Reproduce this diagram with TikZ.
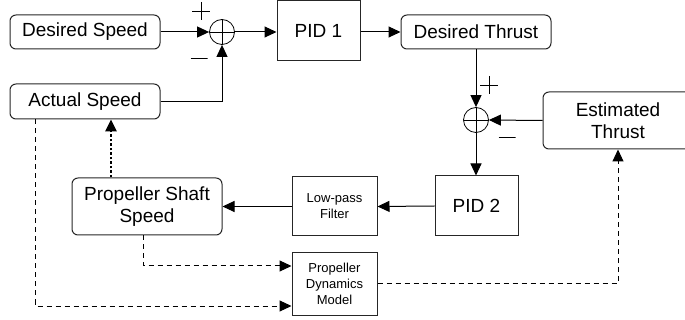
\documentclass[tikz,border=0pt]{standalone}
\usepackage{fontspec}
\setmainfont{Liberation Sans}
\usetikzlibrary{arrows.meta}
\begin{document}
\begin{tikzpicture}[x=1pt,y=-1pt,
  big/.style={font=\fontsize{19}{22}\selectfont},
  small/.style={font=\fontsize{13}{16}\selectfont},
  blk/.style={draw=black!85, line width=1pt, rounded corners=6pt, align=center, inner sep=0pt, big},
  sq/.style={draw=black!85, line width=1pt, align=center, inner sep=0pt},
  sumc/.style={draw, circle, minimum size=25pt, inner sep=0pt, line width=0.8pt,
    path picture={\draw[line width=0.8pt] (path picture bounding box.north)--(path picture bounding box.south)
      (path picture bounding box.west)--(path picture bounding box.east);}},
  arr/.style={line width=1pt, -{Triangle[length=12pt,width=11pt]}},
  dsh/.style={arr, dash pattern=on 5pt off 4pt},
  dotarr/.style={line width=2.5pt, dash pattern=on 2.5pt off 2pt, -{Triangle[length=12pt,width=11pt]}},
  plussign/.style={minimum size=18pt, inner sep=0pt,
    path picture={\draw[line width=0.9pt] (path picture bounding box.north)--(path picture bounding box.south)
      (path picture bounding box.west)--(path picture bounding box.east);}},
  minussign/.style={minimum width=17pt, minimum height=2pt, inner sep=0pt,
    path picture={\draw[line width=0.9pt] (path picture bounding box.west)--(path picture bounding box.east);}}]
\useasboundingbox (0,0) rectangle (685,320);
\clip (0,0) rectangle (685,320);

\node[blk, minimum width=150pt, minimum height=34pt] (ds) at (85,32) {Desired Speed};
\node[blk, minimum width=150pt, minimum height=35pt] (as) at (85,101.5) {Actual Speed};
\node[sumc] (s1) at (222,32) {};
\node[sq, big, minimum width=83pt, minimum height=60pt] (p1) at (318.5,31) {PID 1};
\node[blk, minimum width=150pt, minimum height=34pt] (dt) at (476,32) {Desired Thrust};
\node[sumc] (s2) at (476,120) {};
\node[blk, minimum width=150pt, minimum height=57pt] (et) at (618,120.5) {Estimated\\Thrust};
\node[sq, big, minimum width=83pt, minimum height=60pt] (p2) at (476.5,206) {PID 2};
\node[sq, small, minimum width=85pt, minimum height=59pt] (lp) at (334.5,206.5) {Low-pass\\Filter};
\node[blk, minimum width=150pt, minimum height=57pt] (ps) at (147,206.5) {Propeller Shaft\\Speed};
\node[sq, small, minimum width=85pt, minimum height=62pt] (pdm) at (334.5,284) {Propeller\\Dynamics\\Model};

\node[plussign] (s1p) at (201,11) {};
\node[minussign] (s1m) at (199,58) {};
\node[plussign] (s2p) at (489,85) {};
\node[minussign] (s2m) at (507,137) {};

\draw[arr] (ds.east) -- (s1.west);
\draw[arr] (as.east) -| (s1.south);
\draw[arr] (s1.east) -- (s1.east -| p1.west);
\draw[arr] (p1.east |- dt.west) -- (dt.west);
\draw[arr] (dt.south) -- (s2.north);
\draw[arr] (et.west) -- (s2.east);
\draw[arr] (s2.south) -- (s2.south |- p2.north);
\draw[arr] (p2.west) -- (lp.east);
\draw[arr] (lp.west) -- (ps.east);
\draw[dotarr] ([xshift=-36pt]ps.north) -- ([xshift=-36pt]ps.north |- as.south);
\draw[dsh] ([xshift=-4pt]ps.south) |- ([yshift=18pt]pdm.west);
\draw[dsh] ([xshift=-50pt]as.south) |- ([yshift=-22pt]pdm.west);
\draw[dsh] ([yshift=0.5pt]pdm.east) -| (et.south);
\end{tikzpicture}
\end{document}
